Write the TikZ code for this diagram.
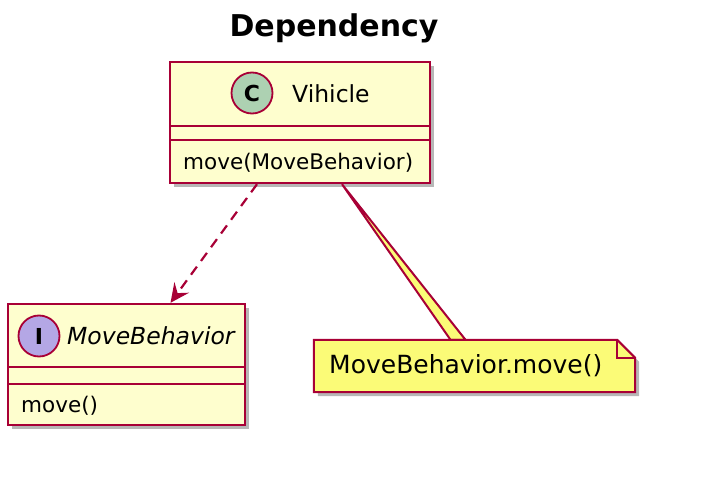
\documentclass[tikz,border=0pt]{standalone}
\usepackage{fontspec}
\setmainfont{DejaVu Sans}
\usetikzlibrary{arrows.meta,shadows,calc}
\definecolor{umlborder}{HTML}{A80036}
\definecolor{umlfill}{HTML}{FEFECE}
\definecolor{notefill}{HTML}{FBFB77}
\definecolor{cgreen}{HTML}{ADD1B2}
\definecolor{ipurple}{HTML}{B4A7E5}
\tikzset{
  shad/.style={drop shadow={shadow xshift=4pt,shadow yshift=-4pt,opacity=0.4,fill=black!70}},
  classbox/.style={draw=umlborder,fill=umlfill,line width=2.4pt,shad,inner sep=0pt},
  sepline/.style={draw=umlborder,line width=2.2pt},
  badge/.style={circle,draw=umlborder,line width=1.8pt,minimum size=41pt,inner sep=0pt,font=\fontsize{22}{24}\selectfont\bfseries},
  clsname/.style={anchor=base west,inner sep=0pt,font=\fontsize{23.5}{28}\selectfont},
  member/.style={anchor=base west,inner sep=0pt,font=\fontsize{21.5}{26}\selectfont},
  depline/.style={draw=umlborder,line width=2.2pt,dash pattern=on 10pt off 7pt,-{Stealth[length=19pt,width=18pt,inset=7pt]}},
  notestyle/.style={draw=umlborder,fill=notefill,line width=2pt,shad,line join=miter},
}
\begin{document}
\begin{tikzpicture}[x=1pt,y=-1pt]
\useasboundingbox (0,0) rectangle (706,478);
% title
\node[anchor=base,inner sep=0pt,font=\fontsize{30}{34}\selectfont\bfseries] (title) at (334,37) {Dependency};
% Vihicle class
\node[classbox,minimum width=260pt,minimum height=121pt] (veh) at (300,122.5) {};
\draw[sepline] (170,126) -- (430,126);
\draw[sepline] (170,140) -- (430,140);
\node[badge,fill=cgreen] (vc) at (252,93) {C};
\node[clsname] (vname) at (292,103) {Vihicle};
\node[member] (vm) at (183,170) {move(MoveBehavior)};
% MoveBehavior interface
\node[classbox,minimum width=237pt,minimum height=121pt] (mb) at (126.5,364.5) {};
\draw[sepline] (8,367) -- (245,367);
\draw[sepline] (8,384) -- (245,384);
\node[badge,fill=ipurple] (mi) at (39,336) {I};
\node[clsname,font=\fontsize{23.5}{28}\selectfont\itshape] (mname) at (67,344) {MoveBehavior};
\node[member] (mm) at (21,412) {move()};
% dependency
\draw[depline] ([xshift=-43pt]veh.south) -- ([xshift=44pt]mb.north);
% note
\node[minimum width=321pt,minimum height=52pt,inner sep=0pt] (note) at (474.5,366) {};
\path[notestyle] ([xshift=42pt]veh.south) -- ([xshift=-24pt]note.north) -- ([xshift=-9pt]note.north) -- cycle;
\path[notestyle] (note.north west) -- ([xshift=-18pt]note.north east) -- ([yshift=-18pt]note.north east) -- (note.south east) -- (note.south west) -- cycle;
\draw[draw=umlborder,line width=1.8pt] ([xshift=-18pt]note.north east) -- ([xshift=-18pt,yshift=-18pt]note.north east) -- ([yshift=-18pt]note.north east);
\node[anchor=base west,inner sep=0pt,font=\fontsize{25}{30}\selectfont] (ntext) at (329,373) {MoveBehavior.move()};
\end{tikzpicture}
\end{document}
